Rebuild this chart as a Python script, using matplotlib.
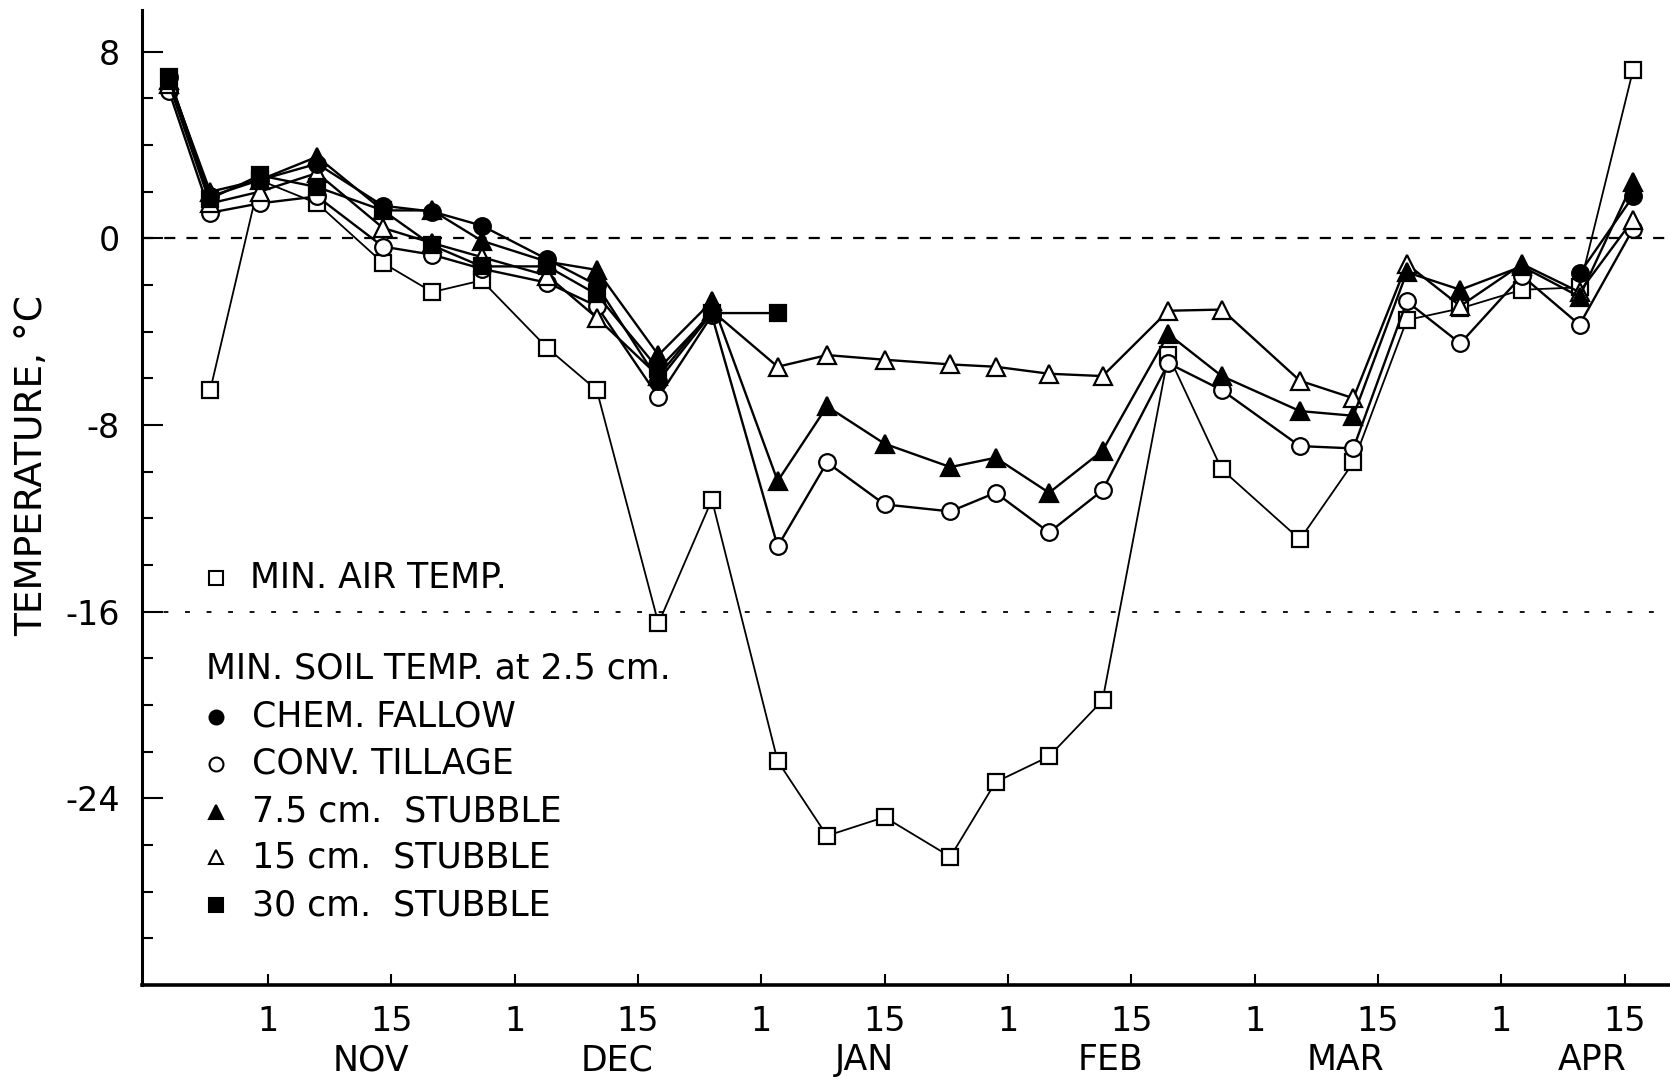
import numpy as np
import matplotlib
matplotlib.use('Agg')
import matplotlib.pyplot as plt
import matplotlib.transforms as mtransforms

plt.rcParams['font.family'] = ['DejaVu Sans']
plt.rcParams['lines.scale_dashes'] = False

nan = np.nan

# sampling dates, days after 1 Nov
days = [-12, -7, -1, 6, 14, 20, 26, 34, 40, 47.5, 54, 62, 68, 75, 83, 88.5,
        95, 101.5, 109.5, 116, 125.5, 132, 138.5, 145, 152.5, 159.5, 166]

air_min = [nan, -6.5, 2.5, 1.5, -1.05, -2.3, -1.8, -4.7, -6.5, -16.5, -11.2,
           -22.4, -25.6, -24.8, -26.5, -23.3, -22.2, -19.8, -5.0, -9.9,
           -12.9, -9.6, -3.5, -3.0, -2.2, -2.1, 7.2]
chem_fallow = [6.9, 1.8, 2.5, 3.2, 1.4, 1.15, 0.55, -0.9, -2.0, -6.1, -3.2,
               nan, nan, nan, nan, nan, nan, nan, nan, nan, nan, nan, nan,
               nan, nan, -1.5, 1.8]
conv_tillage = [6.3, 1.1, 1.5, 1.8, -0.35, -0.7, -1.3, -1.9, -2.9, -6.8, -3.3,
                -13.2, -9.6, -11.4, -11.7, -10.9, -12.6, -10.8, -5.35, -6.5,
                -8.9, -9.0, -2.7, -4.5, -1.6, -3.7, 0.4]
stubble_75 = [6.8, 2.0, 2.5, 3.5, 1.2, 1.2, -0.1, -1.0, -1.35, -5.0, -2.7,
              -10.4, -7.2, -8.8, -9.8, -9.4, -10.9, -9.1, -4.1, -5.9, -7.4,
              -7.6, -1.45, -2.2, -1.2, -2.5, 2.4]
stubble_15 = [6.6, 1.5, 2.0, 2.8, 0.45, -0.2, -0.8, -1.6, -3.4, -5.9, -3.1,
              -5.5, -5.0, -5.2, -5.4, -5.5, -5.8, -5.9, -3.1, -3.05, -6.1,
              -6.85, -1.1, -2.9, -1.1, -2.3, 0.8]
stubble_30 = [6.9, 1.7, 2.7, 2.2, 1.2, -0.3, -1.2, -1.2, -2.4, -5.6, -3.2,
              -3.2, nan, nan, nan, nan, nan, nan, nan, nan, nan, nan, nan,
              nan, nan, nan, nan]

x_ticks = [0, 15, 30, 45, 60, 75, 90, 105, 120, 135, 150, 165]
x_ticklabels = ['1', '15'] * 6
months = ['NOV', 'DEC', 'JAN', 'FEB', 'MAR', 'APR']
month_pos = [12.5, 42.5, 72.5, 102.5, 131.0, 161.0]
y_major = [8, 0, -8, -16, -24]

fig = plt.figure(figsize=(16.7, 10.79), dpi=100)
ax = fig.add_axes([0.085, 0.087, 0.915, 0.904])

# reference lines at 0 and -16
ax.axhline(0, color='black', lw=1.6, dashes=(8, 8), zorder=1)
ax.axhline(-16, color='black', lw=1.3, dashes=(3.5, 12), zorder=1)

series = [
    (air_min, 's', 'white', 11, 1.3),
    (conv_tillage, 'o', 'white', 12, 1.7),
    (stubble_15, '^', 'white', 12.5, 1.7),
    (stubble_75, '^', 'black', 12.5, 1.7),
    (stubble_30, 's', 'black', 11, 1.7),
    (chem_fallow, 'o', 'black', 12, 1.7),
]
for vals, mk, face, ms, lw in series:
    ax.plot(days, vals, color='black', lw=lw, marker=mk, ms=ms,
            mfc=face, mec='black', mew=1.6, clip_on=False, zorder=3)

ax.set_xlim(-15.3, 170.5)
ax.set_ylim(-32, 9.8)

ax.spines['top'].set_visible(False)
ax.spines['right'].set_visible(False)
ax.spines['left'].set_linewidth(2.2)
ax.spines['bottom'].set_linewidth(2.6)

ax.set_xticks(x_ticks)
ax.set_xticklabels(x_ticklabels)
ax.set_yticks(y_major)
ax.set_yticklabels([str(v) for v in y_major])
ax.set_yticks([v for v in range(-30, 9, 2) if v not in y_major], minor=True)
ax.tick_params(axis='x', direction='in', length=8, width=1.5, pad=14,
               labelsize=24)
ax.tick_params(axis='y', which='major', direction='in', length=15, width=1.5,
               pad=16, labelsize=24)
ax.tick_params(axis='y', which='minor', direction='in', length=8, width=1.5)

trans = mtransforms.blended_transform_factory(ax.transData, ax.transAxes)
for m, xp in zip(months, month_pos):
    ax.text(xp, -0.077, m, transform=trans, ha='center', va='center',
            fontsize=25)

ax.set_ylabel('TEMPERATURE, \u00b0C', fontsize=27)
ax.yaxis.set_label_coords(-0.060, 0.533)

# key drawn inside the plot area
def key_row(y, mk, face, label, x_text=0.072):
    ax.plot([0.0484], [y], marker=mk, ms=10, mfc=face, mec='black', mew=1.5,
            transform=ax.transAxes, clip_on=False, zorder=4)
    ax.text(x_text, y, label, transform=ax.transAxes, va='center',
            ha='left', fontsize=25)

key_row(0.417, 's', 'white', 'MIN. AIR TEMP.', x_text=0.0707)
ax.text(0.0419, 0.325, 'MIN. SOIL TEMP. at 2.5 cm.', transform=ax.transAxes,
        va='center', ha='left', fontsize=25)
key_row(0.275, 'o', 'black', 'CHEM. FALLOW')
key_row(0.227, 'o', 'white', 'CONV. TILLAGE')
key_row(0.178, '^', 'black', '7.5 cm.  STUBBLE')
key_row(0.131, '^', 'white', '15 cm.  STUBBLE')
key_row(0.082, 's', 'black', '30 cm.  STUBBLE')

fig.savefig('out.png', dpi=100)
